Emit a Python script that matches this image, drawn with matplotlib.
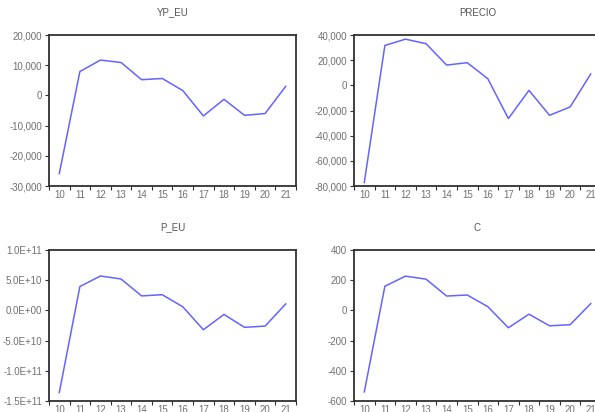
import matplotlib
matplotlib.use("Agg")
import matplotlib.pyplot as plt
from matplotlib.ticker import FuncFormatter, FixedLocator

plt.rcParams['font.family'] = ['Liberation Sans', 'DejaVu Sans']

years = [10, 11, 12, 13, 14, 15, 16, 17, 18, 19, 20, 21]
year_labels = [str(y) for y in years]

yp_eu = [-25900, 7900, 11700, 10900, 5200, 5600, 1600, -6800, -1300, -6600, -6000, 3000]
precio = [-77200, 31700, 36700, 33100, 16100, 18000, 5300, -26400, -4000, -23800, -17200, 9000]
p_eu = [-1.36e11, 3.95e10, 5.7e10, 5.2e10, 2.4e10, 2.6e10, 0.6e10, -3.2e10, -0.67e10, -2.8e10, -2.6e10, 1.07e10]
c_vals = [-540, 160, 227, 207, 95, 102, 25, -115, -25, -102, -95, 45]

titles = ["YP_EU", "PRECIO", "P_EU", "C"]
series = [yp_eu, precio, p_eu, c_vals]
ylims = [(-30000, 20000), (-80000, 40000), (-1.5e11, 1.0e11), (-600, 400)]
yticks = [
    [-30000, -20000, -10000, 0, 10000, 20000],
    [-80000, -60000, -40000, -20000, 0, 20000, 40000],
    [-1.5e11, -1.0e11, -5.0e10, 0.0, 5.0e10, 1.0e11],
    [-600, -400, -200, 0, 200, 400],
]


def comma_fmt(v, pos):
    return f"{v:,.0f}"


def sci_fmt(v, pos):
    return f"{v:.1E}"


formatters = [comma_fmt, comma_fmt, sci_fmt, comma_fmt]

W, H = 595, 412
fig = plt.figure(figsize=(W / 100, H / 100), dpi=100)
fig.patch.set_facecolor("white")

# panel boxes in pixel coordinates: (left, top, width, height)
boxes = [
    (49, 35, 247, 151),
    (354, 35, 247, 151),
    (49, 250, 247, 151),
    (354, 250, 247, 151),
]

text_col = "#707070"
spine_col = "#303030"
line_col = "#6464FF"

for title, vals, ylim, yt, fmt, (l, t, w, h) in zip(titles, series, ylims, yticks, formatters, boxes):
    ax = fig.add_axes([l / W, 1 - (t + h) / H, w / W, h / H])
    ax.plot(years, vals, color=line_col, lw=1.1)
    ax.set_xlim(9.5, 21.5)
    ax.set_ylim(*ylim)
    ax.set_yticks(yt)
    ax.yaxis.set_major_formatter(FuncFormatter(fmt))
    # year labels at integer positions, tick marks between them
    ax.set_xticks(years)
    ax.set_xticklabels(year_labels)
    ax.xaxis.set_minor_locator(FixedLocator([y + 0.5 for y in [9] + years]))
    ax.tick_params(axis="x", which="major", length=0, pad=3, labelsize=7, labelcolor=text_col)
    ax.tick_params(axis="x", which="minor", length=3, width=0.8, color=spine_col, direction="out")
    ax.tick_params(axis="y", which="major", length=3, width=0.8, color=spine_col, direction="out",
                   pad=2, labelsize=7, labelcolor=text_col)
    for sp in ax.spines.values():
        sp.set_color(spine_col)
        sp.set_linewidth(1.3)
    ax.set_title(title, fontsize=7, color="#555555", pad=14)

fig.savefig("out.png", dpi=100, facecolor="white")
